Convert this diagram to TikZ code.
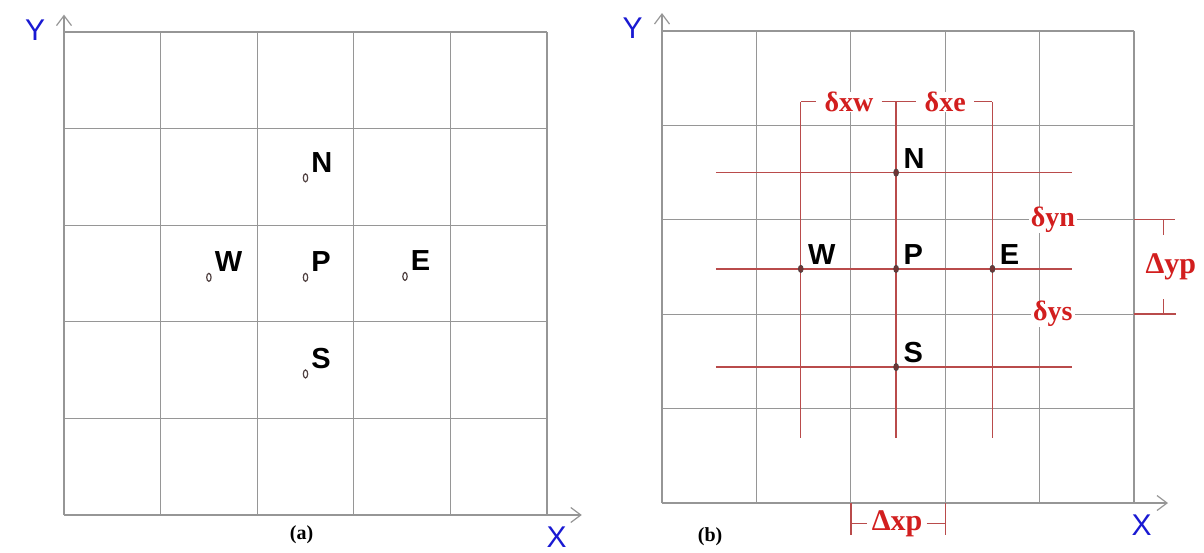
\documentclass[tikz,border=0pt]{standalone}
\usepackage{fontspec}
\setmainfont{Liberation Serif}
\setsansfont{Liberation Sans}
\usetikzlibrary{positioning,backgrounds,arrows.meta,shapes.geometric}
\definecolor{gdline}{RGB}{150,150,150}
\definecolor{gdred}{RGB}{185,75,75}
\definecolor{gdtext}{RGB}{210,30,30}
\definecolor{gdblue}{RGB}{25,25,210}
\definecolor{gddot}{RGB}{80,65,65}

\begin{document}
\begin{tikzpicture}[
  gridline/.style={draw=gdline, line width=0.6pt},
  axis/.style={gridline, -{Straight Barb[length=5pt,width=7.5pt]}},
  redline/.style={draw=gdred, line width=0.7pt},
  axlbl/.style={font=\sffamily\fontsize{15}{15}\selectfont, text=gdblue, inner sep=0pt},
  ptlbl/.style={font=\sffamily\bfseries\fontsize{14.5}{14.5}\selectfont, inner sep=0pt},
  caption/.style={font=\bfseries\fontsize{10}{10}\selectfont, inner sep=0pt},
  dimlbl/.style={font=\bfseries\fontsize{14}{14}\selectfont, text=gdtext, fill=white,
                 inner xsep=4pt, inner ysep=0pt},
  bigdim/.style={dimlbl, font=\bfseries\fontsize{15}{15}\selectfont},
  hdot/.style={ellipse, draw=gddot, line width=0.6pt, minimum width=2.2pt,
               minimum height=4pt, inner sep=0pt},
  fdot/.style={ellipse, draw=gddot, fill=gddot!80!red, minimum width=2.4pt,
               minimum height=3.6pt, inner sep=0pt}]
  \useasboundingbox (0,0) rectangle (602pt,276pt);
  \begin{scope}[shift={(32pt,18.5pt)}, x=48.3pt, y=48.3pt]
    \draw[gridline, step=1] (0,0) grid (5,5);
    \draw[axis] (0,5) -- (0,5.18);
    \draw[axis] (5,0) -- (5.36,0);
    \node[axlbl] (aY) at (-0.3,5.02) {Y};
    \node[axlbl] (aX) at (5.1,-0.23) {X};
    \node[caption] (acap) at (2.46,-0.2) {(a)};
    \foreach \n/\x/\y in {N/2.5/3.49, W/1.5/2.46, P/2.5/2.46, E/3.53/2.47, S/2.5/1.46}{
      \node[hdot] (a\n) at (\x,\y) {};
      \node[ptlbl, above right=1pt and 1.8pt of a\n] (al\n) {\n};
    }
  \end{scope}
  \begin{scope}[shift={(331pt,24.5pt)}, x=47.2pt, y=47.2pt]
    \node[dimlbl] (dxw) at (1.98,4.25) {δxw};
    \node[dimlbl] (dxe) at (3.0,4.25) {δxe};
    \node[dimlbl, inner xsep=1pt] (dyn) at (4.14,3) {δyn};
    \node[dimlbl, inner xsep=1pt] (dys) at (4.14,2) {δys};
    \node[bigdim, inner xsep=1pt, minimum height=32pt] (Dyp) at (5.39,2.5) {Δyp};
    \node[bigdim, inner xsep=2pt] (Dxp) at (2.49,-0.22) {Δxp};
    \begin{scope}[on background layer]
      \draw[gridline, step=1] (0,0) grid (5,5);
    \end{scope}
    \draw[axis] (0,5) -- (0,5.19);
    \draw[axis] (5,0) -- (5.36,0);
    \node[axlbl] (bY) at (-0.31,5.03) {Y};
    \node[axlbl] (bX) at (5.08,-0.24) {X};
    \node[caption] (bcap) at (0.51,-0.36) {(b)};
    \foreach \y in {3.5,2.48,1.44}
      \draw[redline] (0.57,\y) -- (4.34,\y);
    \foreach \x in {1.47,2.48,3.5}
      \draw[redline] (\x,0.69) -- (\x,4.25);
    \coordinate (tw) at (1.47,4.25);
    \coordinate (te) at (3.5,4.25);
    \draw[redline] (tw) -- (dxw) (dxw) -- (dxe) (dxe) -- (te);
    \coordinate (bl) at (2,0);
    \coordinate (br) at (3,0);
    \draw[redline] (bl) -- ++(0,-0.34) (br) -- ++(0,-0.34);
    \draw[redline] (bl |- Dxp) -- (Dxp) -- (br |- Dxp);
    \coordinate (rt) at (5,3);
    \coordinate (rb) at (5,2);
    \draw[redline] (rt) -- ++(0.43,0) (rb) -- ++(0.45,0);
    \coordinate (vt) at (5.31,3);
    \coordinate (vb) at (5.31,2);
    \draw[redline] (vt) -- (vt |- Dyp.north) (vb) -- (vb |- Dyp.south);
    \foreach \n/\x/\y in {N/2.48/3.5, W/1.47/2.48, P/2.48/2.48, E/3.5/2.48, S/2.48/1.44}{
      \node[fdot] (b\n) at (\x,\y) {};
      \node[ptlbl, above right=0.5pt and 2.5pt of b\n] (bl\n) {\n};
    }
  \end{scope}
\end{tikzpicture}
\end{document}
